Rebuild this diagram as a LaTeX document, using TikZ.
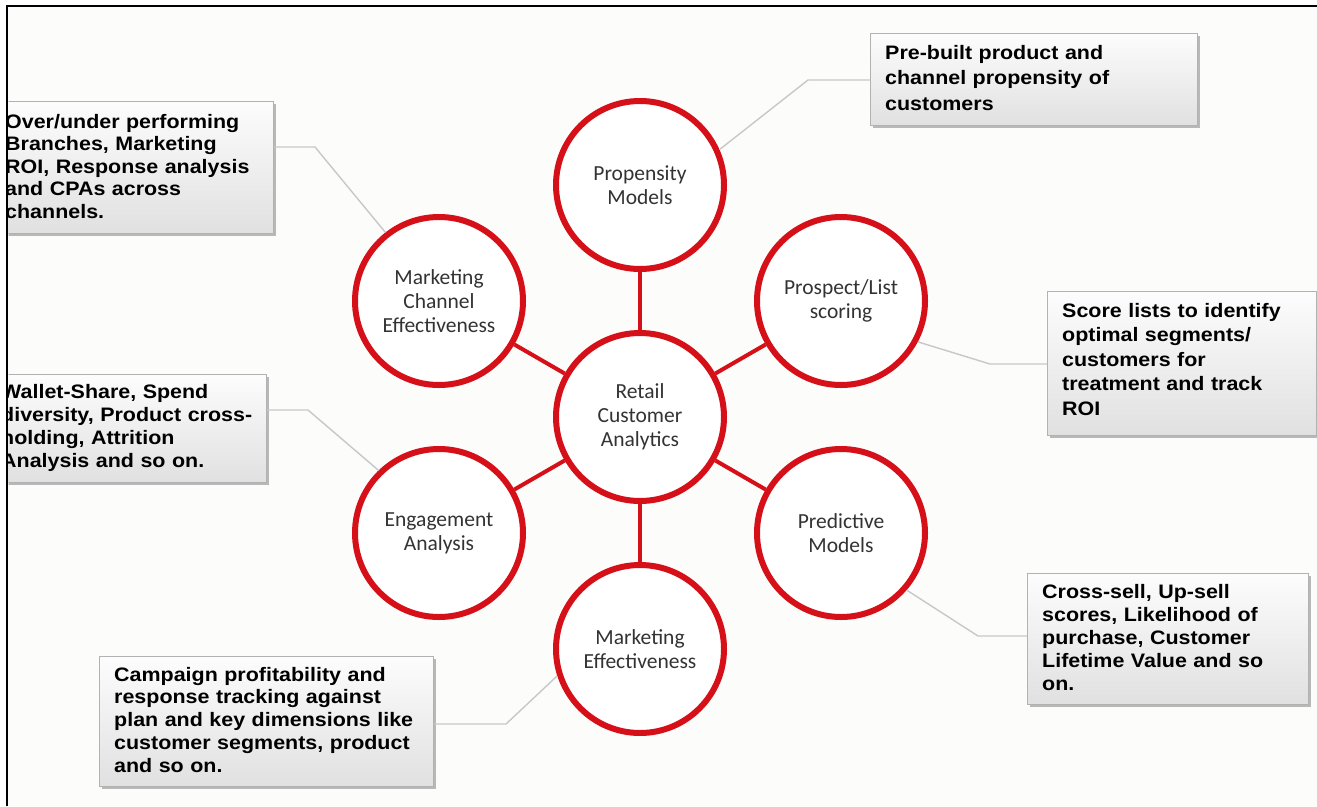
\documentclass[tikz,border=0pt]{standalone}
\usepackage{fontspec}
\usetikzlibrary{shadows}
\newfontfamily\boxfont[FakeStretch=1.1]{Liberation Sans}
\newfontfamily\circfont{Carlito}
\definecolor{ringred}{RGB}{214,16,24}
\definecolor{conn}{RGB}{200,200,200}
\definecolor{paper}{RGB}{252,252,251}
\begin{document}
\begin{tikzpicture}[x=1pt,y=-1pt,
  ring/.style={circle,draw=ringred,line width=6pt,fill=white,minimum size=168pt,inner sep=0pt,
    font=\circfont\fontsize{21.5}{24}\selectfont,text=black!80,align=center},
  spoke/.style={draw=ringred,line width=4pt},
  callbox/.style={draw=black!30,line width=0.8pt,top color=black!1,bottom color=black!12,
    inner sep=0pt,anchor=north west,
    drop shadow={shadow xshift=2.5pt,shadow yshift=-3pt,opacity=0.45,fill=black!60}},
  calltext/.style={anchor=base west,inner sep=0pt,align=left,text width=330pt,
    font=\boxfont\bfseries\fontsize{19.5}{#1}\selectfont,text=black},
  callline/.style={draw=conn,line width=1.4pt}]
\useasboundingbox (0,0) rectangle (1317,806);
\fill[white] (0,0) rectangle (1317,806);
\fill[paper] (7,6) rectangle (1317,806);
\begin{scope}
\clip (8.5,7.5) rectangle (1317,806);
% circles
\node[ring] (c)  at (640,417) {Retail\\Customer\\Analytics};
\node[ring] (pm) at (640,185) {Propensity\\Models};
\node[ring] (ps) at (841,301) {Prospect/List\\scoring};
\node[ring] (pr) at (841,533) {Predictive\\Models};
\node[ring] (me) at (640,649) {Marketing\\Effectiveness};
\node[ring] (ea) at (439,533) {Engagement\\Analysis};
\node[ring] (mc) at (439,301) {Marketing\\Channel\\Effectiveness};
\foreach \o in {pm,ps,pr,me,ea,mc} \draw[spoke] (c) -- (\o);
% boxes
\node[callbox,minimum width=327pt,minimum height=92pt]  (b1) at (870,33) {};
\node[callbox,minimum width=269pt,minimum height=144pt] (b2) at (1047,291) {};
\node[callbox,minimum width=281pt,minimum height=131pt] (b3) at (1027,573) {};
\node[callbox,minimum width=334pt,minimum height=130pt] (b4) at (99,656) {};
\node[callbox,minimum width=293pt,minimum height=132pt] (b5) at (-20,101) {};
\node[callbox,minimum width=286pt,minimum height=108pt] (b6) at (-20,374) {};
% texts
\node[calltext=25.8] (t1) at (885,59) {Pre-built product and\\channel propensity of\\customers};
\node[calltext=24.5] (t2) at (1062,317) {Score lists to identify\\optimal segments/\\customers for\\treatment and track\\ROI};
\node[calltext=23] (t3) at (1042,598) {Cross-sell, Up-sell\\scores, Likelihood of\\purchase, Customer\\Lifetime Value and so\\on.};
\node[calltext=22.75] (t4) at (114,681) {Campaign profitability and\\response tracking against\\plan and key dimensions like\\customer segments, product\\and so on.};
\node[calltext=22.5] (t5) at (5,128) {Over/under performing\\Branches, Marketing\\ROI, Response analysis\\and CPAs across\\channels.};
\node[calltext=23.3] (t6) at (1,398) {Wallet-Share, Spend\\diversity, Product cross-\\holding, Attrition\\Analysis and so on.};
% connectors
\coordinate (k1) at (808,80);
\coordinate (k2) at (990,364);
\coordinate (k3) at (978,636);
\coordinate (k4) at (506,724);
\coordinate (k5) at (315,147);
\coordinate (k6) at (308,410);
\draw[callline] (pm.24) -- (k1) -- (b1.west |- k1);
\draw[callline] (ps.-28) -- (k2) -- (b2.west |- k2);
\draw[callline] (pr.-41) -- (k3) -- (b3.west |- k3);
\draw[callline] (me.198) -- (k4) -- (b4.east |- k4);
\draw[callline] (mc.128) -- (k5) -- (b5.east |- k5);
\draw[callline] (ea.134) -- (k6) -- (b6.east |- k6);
\end{scope}
\draw[line width=2.5pt,line join=miter] (7.2,806) -- (7.2,6.2) -- (1317,6.2);
\end{tikzpicture}
\end{document}
